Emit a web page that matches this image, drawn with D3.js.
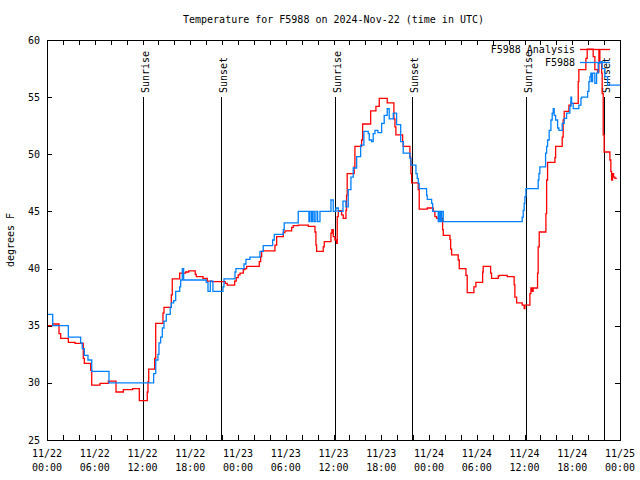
<!DOCTYPE html>
<html><head><meta charset="utf-8">
<script src="https://cdn.jsdelivr.net/npm/d3@7"></script>
<style>
body{margin:0;background:#fff}
svg{display:block}
text{font-family:"DejaVu Sans Mono","Liberation Mono",monospace;font-size:10px;fill:#000}
</style>
</head><body>
<svg id="c" width="640" height="480"></svg>
<script>
const title = "Temperature for F5988 on 2024-Nov-22 (time in UTC)";
const yLabel = "degrees F";
const seriesNames = ["F5988 Analysis", "F5988"];
const yDomain = [25, 60];
const yTicks = [25, 30, 35, 40, 45, 50, 55, 60];
const startUTC = "2024-11-22T00:00:00Z";
const spanHours = 72;
// [label, hours after start]
const sunEvents = [["Sunrise",12.1],["Sunset",21.9],["Sunrise",36.23],["Sunset",45.9],["Sunrise",60.25],["Sunset",70.03]];
// [hours after start, deg F] (step changes)
const analysis = [
[0,35.0],[0.72,35.15],[1.51,34.3],[1.72,33.9],[2.68,33.55],[3.52,33.45],[4.56,32.15],[4.69,31.7],[5.49,31.1],[5.62,29.8],
[6.66,29.95],[7.70,30.15],[8.67,29.2],[9.59,29.4],[10.77,29.5],[11.6,28.45],[12.6,29.2],[12.69,30.1],[12.78,31.2],[13.53,32.15],
[13.66,35.2],[14.57,36.1],[14.70,36.6],[15.62,37.7],[15.74,39.1],[16.67,39.6],[17.42,39.7],[17.80,39.8],[18.63,39.5],[18.76,39.3],
[19.60,39.15],[20.14,38.9],[20.73,38.85],[22.40,38.7],[22.65,38.55],[23.58,38.9],[23.78,39.2],[24.03,39.45],[24.25,39.6],[24.66,39.9],
[24.87,40.0],[25.09,40.2],[26.67,40.6],[26.85,41.05],[26.97,41.5],[27.17,41.55],[28.64,42.06],[28.86,42.8],[29.69,43.15],[29.90,43.3],
[30.74,43.6],[30.94,43.75],[31.57,43.8],[32.83,43.7],[33.67,43.2],[33.79,42.06],[33.88,41.5],[34.71,41.9],[34.84,42.35],[35.68,43.1],
[35.80,43.4],[35.97,42.8],[36.18,42.5],[36.39,42.2],[36.47,44.55],[36.60,45.06],[37.02,44.7],[37.22,44.4],[37.56,45.1],[37.64,46.4],
[37.72,48.3],[38.60,48.9],[38.69,50.7],[39.53,51.25],[39.66,52.65],[40.67,53.8],[41.33,54.2],[41.75,54.9],[42.75,54.5],[43.59,53.1],
[43.72,52.4],[43.84,51.7],[44.69,51.1],[44.76,50.7],[45.60,49.8],[45.69,49.35],[45.73,48.3],[45.82,47.5],[46.65,46.9],[46.77,45.2],
[47.78,45.3],[48.53,45.0],[48.74,44.55],[48.96,44.4],[49.71,43.4],[49.79,42.9],[50.63,42.55],[50.72,41.7],[50.84,41.2],[51.67,40.75],
[51.80,40.0],[52.64,39.4],[52.80,37.9],[53.64,38.4],[53.89,38.8],[54.74,39.7],[54.81,40.2],[55.74,39.6],[55.86,39.15],[56.70,39.35],
[56.82,39.4],[57.83,39.3],[58.70,38.6],[58.79,37.5],[59.01,37.0],[59.71,36.8],[59.96,36.5],[60.05,36.8],[60.68,37.8],[60.80,38.3],
[60.97,38.0],[61.09,38.3],[61.64,39.6],[61.72,41.9],[61.85,43.2],[62.69,44.8],[62.78,47.75],[62.90,49.3],[63.82,49.7],[63.91,50.7],
[64.74,51.5],[64.86,53.0],[64.99,53.75],[65.58,54.3],[65.83,54.45],[66.75,56.35],[66.83,57.4],[67.71,58.4],[67.88,59.2],[68.63,58.55],
[68.84,57.4],[69.18,57.2],[69.35,59.1],[69.47,58.1],[69.69,57.1],[69.76,55.3],[69.89,51.7],[70.01,50.2],[70.73,49.5],[70.85,48.5],
[70.94,47.75],[71.07,48.3],[71.19,48.0],[71.36,47.9],[71.6,47.9]
];
const observed = [
[0,36.0],[0.72,35.0],[2.68,34.0],[4.23,33.5],[4.43,33.0],[4.69,32.4],[5.15,32.0],[5.62,31.0],[7.79,30.0],[13.40,30.8],
[13.66,32.0],[13.94,32.5],[14.07,33.5],[14.28,34.0],[14.49,34.8],[14.70,35.4],[14.99,36.0],[15.49,36.6],[15.62,37.0],[15.92,37.2],
[16.17,38.0],[16.67,38.4],[16.80,39.0],[17.00,40.0],[17.17,39.0],[20.01,38.8],[20.23,38.0],[20.52,38.9],[20.85,38.0],[22.11,38.4],
[22.24,39.1],[23.62,39.7],[23.74,40.0],[24.75,40.4],[25.00,40.8],[25.50,41.0],[26.76,41.5],[27.17,42.0],[28.35,42.5],[28.56,43.0],
[29.69,43.4],[29.81,44.0],[31.57,45.0],[32.91,44.1],[33.04,45.0],[33.25,44.1],[33.38,45.0],[33.58,44.1],[33.79,45.0],[34.01,44.1],
[34.30,45.0],[35.68,46.0],[35.97,45.0],[36.31,45.3],[36.60,45.0],[37.19,45.9],[37.56,45.4],[37.85,46.9],[38.19,48.0],[38.48,48.8],
[38.91,49.8],[39.41,50.8],[39.82,52.0],[40.36,51.8],[40.49,51.25],[40.79,51.1],[40.99,51.8],[41.21,52.1],[41.58,51.9],[42.05,52.7],
[42.37,53.4],[42.75,54.0],[43.00,53.1],[43.51,53.6],[43.93,52.6],[44.44,51.1],[44.76,50.1],[45.60,49.65],[45.73,49.05],[46.36,48.3],
[46.52,47.9],[46.65,47.45],[46.77,47.0],[47.70,46.4],[47.78,46.05],[48.33,45.7],[48.46,45.0],[49.16,44.1],[49.29,45.0],[49.46,44.1],
[49.59,45.0],[49.79,44.1],[59.71,44.5],[59.84,45.1],[59.96,45.7],[60.05,46.3],[60.18,47.0],[61.72,47.75],[61.81,48.3],[61.93,48.9],
[62.65,50.1],[62.78,50.7],[62.90,51.25],[63.10,52.1],[63.32,53.0],[63.48,53.6],[63.61,54.0],[63.73,53.4],[63.91,53.0],[64.16,52.3],
[64.32,52.1],[64.74,52.7],[64.99,53.15],[65.29,53.6],[65.70,54.2],[65.83,55.0],[65.92,54.45],[66.12,54.0],[66.83,54.3],[67.09,54.9],
[67.17,55.0],[67.93,55.5],[68.09,56.35],[68.22,56.8],[68.34,57.1],[68.43,56.35],[68.56,57.1],[68.84,56.2],[69.06,57.1],[69.26,57.96],
[69.47,58.1],[69.76,57.5],[70.10,56.8],[70.44,56.05],[72.0,56.05]
];
const seriesColors = ["#ff0000", "#0080ff"];

const svg = d3.select("#c");
const m = {l:47, r:620, t:40, b:440};
const t0 = new Date(startUTC).getTime();
const toDate = h => new Date(t0 + h*3600e3);
const x = d3.scaleUtc().domain([toDate(0), toDate(spanHours)]).range([m.l, m.r]);
const y = d3.scaleLinear().domain(yDomain).range([m.b, m.t]);

// title
svg.append("text").attr("x", (m.l+m.r)/2).attr("y", 19).attr("dy","0.35em")
  .attr("text-anchor","middle").text(title);
// y label
svg.append("text").attr("transform",`translate(10,${(m.t+m.b)/2}) rotate(-90)`)
  .attr("text-anchor","middle").attr("dy","0.35em").text(yLabel);

const g = svg.append("g").attr("shape-rendering","crispEdges");
// x ticks every 2h (bottom and top, inward)
const xt = x.ticks(d3.utcHour.every(2));
g.append("g").attr("transform",`translate(0,${m.b})`)
  .call(d3.axisBottom(x).tickValues(xt).tickSize(-5).tickFormat(""))
  .call(s=>s.select(".domain").remove());
g.append("g").attr("transform",`translate(0,${m.t})`)
  .call(d3.axisTop(x).tickValues(xt).tickSize(-5).tickFormat(""))
  .call(s=>s.select(".domain").remove());
g.append("g").attr("transform",`translate(${m.l},0)`)
  .call(d3.axisLeft(y).tickValues(yTicks).tickSize(-5).tickFormat(""))
  .call(s=>s.select(".domain").remove());
g.append("g").attr("transform",`translate(${m.r},0)`)
  .call(d3.axisRight(y).tickValues(yTicks).tickSize(-5).tickFormat(""))
  .call(s=>s.select(".domain").remove());
g.selectAll(".tick line").attr("stroke","#000");

// y labels
svg.append("g").selectAll("text").data(yTicks).join("text")
  .attr("x", 40).attr("y", d=>y(d)).attr("dy","0.35em").attr("text-anchor","end")
  .text(d=>d);
// x labels every 6h
const xl = x.ticks(d3.utcHour.every(6));
const fmtD = d3.utcFormat("%m/%d"), fmtT = d3.utcFormat("%H:%M");
const lab = svg.append("g").selectAll("text").data(xl).join("text")
  .attr("text-anchor","middle");
lab.append("tspan").attr("x", d=>x(d)).attr("y", 453).attr("dy","0.35em").text(fmtD);
lab.append("tspan").attr("x", d=>x(d)).attr("y", 467).attr("dy","0.35em").text(fmtT);

// sun lines
const sun = svg.append("g");
sun.selectAll("line").data(sunEvents).join("line")
  .attr("x1", d=>Math.round(x(toDate(d[1])))+0.5).attr("x2", d=>Math.round(x(toDate(d[1])))+0.5)
  .attr("y1", 97).attr("y2", m.b).attr("stroke","#000").attr("stroke-width",1);
sun.selectAll("text").data(sunEvents).join("text")
  .attr("transform", d=>`translate(${Math.round(x(toDate(d[1])))+2},93) rotate(-90)`)
  .attr("dy","0.35em").text(d=>d[0]);

// data
svg.append("clipPath").attr("id","clip").append("rect")
  .attr("x",m.l).attr("y",m.t).attr("width",m.r-m.l).attr("height",m.b-m.t);
const line = d3.line().curve(d3.curveStepAfter).x(d=>x(toDate(d[0]))).y(d=>y(d[1]));
const dg = svg.append("g").attr("clip-path","url(#clip)");
[analysis, observed].forEach((s,i)=>{
  dg.append("path").datum(s).attr("d", line).attr("fill","none")
    .attr("stroke", seriesColors[i]).attr("stroke-width",1.3);
});

// border
svg.append("rect").attr("x",m.l+0.5).attr("y",m.t+0.5).attr("width",m.r-m.l).attr("height",m.b-m.t)
  .attr("fill","none").attr("stroke","#000").attr("shape-rendering","crispEdges");

// legend
const lg = svg.append("g");
seriesNames.forEach((n,i)=>{
  const ly = 49.5 + i*13;
  lg.append("text").attr("x",575).attr("y",ly).attr("dy","0.35em").attr("text-anchor","end").text(n);
  lg.append("line").attr("x1",580).attr("x2",610).attr("y1",ly).attr("y2",ly)
    .attr("stroke",seriesColors[i]).attr("stroke-width",1.3);
});
</script>
</body></html>
